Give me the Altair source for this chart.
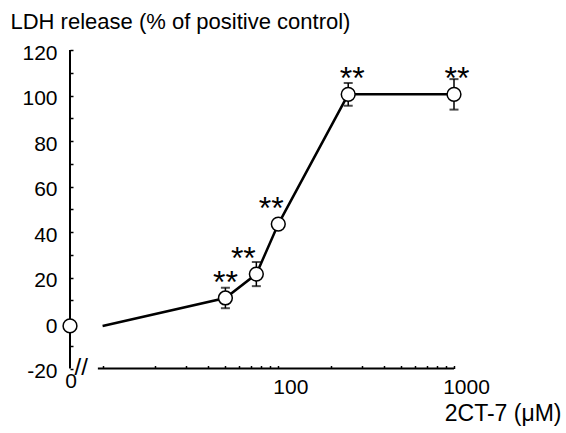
import altair as alt
import pandas as pd
import math

# ---- data ----
conc_uM = [50, 75, 100, 250, 1000]
ldh_pct = [11.0, 21.5, 43.5, 100.5, 100.5]
ldh_sem = [4.5, 5.3, 2.0, 5.0, 6.7]
signif = ["**", "**", "**", "**", "**"]
control_ldh = -1.3

x_tick_values = [10, 20, 30, 40, 50, 60, 70, 80, 90,
                 100, 200, 300, 400, 500, 600, 700, 800, 900, 1000]
y_tick_values = [-20, -10, 0, 10, 20, 30, 40, 50, 60, 70, 80, 90, 100, 110, 120]

# ---- layout constants ----
W, H = 384, 318.5
CONTROL_X = 10 ** 0.8145      # x position where the control (0 µM) is drawn (on the y axis)
LINE_START_X = 10             # the curve is drawn from the start of the log axis
FONT = "Liberation Sans"
PX_PER_DECADE = W / math.log10(1000 / CONTROL_X)
star_dx = [0, -13, -7, 4, 3]  # horizontal nudges (px) of the significance marks

pts = pd.DataFrame({
    "conc": conc_uM,
    "ldh": ldh_pct,
    "lo": [v - e for v, e in zip(ldh_pct, ldh_sem)],
    "hi": [v + e for v, e in zip(ldh_pct, ldh_sem)],
    "star": signif,
    "sdx": star_dx,
})
line_df = pd.DataFrame({"conc": [LINE_START_X] + conc_uM,
                        "ldh": [control_ldh] + ldh_pct})
ctrl = pd.DataFrame({"conc": [CONTROL_X], "ldh": [control_ldh]})

xscale = alt.Scale(type="log", domain=[CONTROL_X, 1000], nice=False)
yscale = alt.Scale(domain=[-20, 120], nice=False, zero=False)

label_expr = "indexof([100, 1000], datum.value) >= 0 ? '' + datum.value : ''"

xaxis = alt.Axis(
    values=x_tick_values, labelExpr=label_expr, domain=False, grid=False,
    tickSize=3, tickWidth=1.5, tickColor="black", offset=-3,
    labelFont=FONT, labelFontSize=21, labelColor="black", labelPadding=8,
    labelOffset=12, labelFlush=False,
    title="2CT-7 (μM)", titleFont=FONT, titleFontSize=23, titleFontWeight="normal",
    titleColor="black", titleAnchor="end", titleAlign="right", titleBaseline="alphabetic",
    titleX=491, titleY=55,
)
yaxis = alt.Axis(
    values=y_tick_values,
    labelExpr="datum.value % 20 == 0 ? '' + datum.value : ''",
    domain=False, grid=False, tickSize=3, tickWidth=1.5, tickColor="black", offset=-3,
    labelFont=FONT, labelFontSize=21, labelColor="black", labelPadding=13,
    labelOffset=3,
    title="LDH release (% of positive control)", titleFont=FONT, titleFontSize=22,
    titleFontWeight="normal", titleColor="black", titleAngle=0,
    titleAlign="left", titleBaseline="alphabetic", titleAnchor="start",
    titleX=-63, titleY=-22,
)

base_x = alt.X("conc:Q", scale=xscale, axis=xaxis)
base_y = alt.Y("ldh:Q", scale=yscale, axis=yaxis)

# axis lines
y_domain = alt.Chart(ctrl).mark_rule(color="black", strokeWidth=2).encode(
    x=alt.value(0), y=alt.value(0), y2=alt.value(H))
x_domain = alt.Chart(pd.DataFrame({"a": [9.4], "b": [1000], "v": [-20]})).mark_rule(
    color="black", strokeWidth=2).encode(
    x=alt.X("a:Q", scale=xscale, axis=xaxis), x2="b:Q",
    y=alt.Y("v:Q", scale=yscale, axis=yaxis))

line = alt.Chart(line_df).mark_line(color="black", strokeWidth=2.5).encode(x=base_x, y=base_y)

err = alt.Chart(pts).mark_rule(color="black", strokeWidth=1.5).encode(
    x=base_x, y=alt.Y("lo:Q", scale=yscale, axis=yaxis), y2="hi:Q")
cap_hi = alt.Chart(pts).mark_tick(color="black", orient="horizontal", size=9, thickness=2).encode(
    x=base_x, y=alt.Y("hi:Q", scale=yscale, axis=yaxis))
cap_lo = alt.Chart(pts).mark_tick(color="black", orient="horizontal", size=9, thickness=2).encode(
    x=base_x, y=alt.Y("lo:Q", scale=yscale, axis=yaxis))

circles = alt.Chart(pts).mark_point(shape="circle", filled=True, fill="white",
                                    stroke="black", strokeWidth=1.5, size=190, opacity=1).encode(
    x=base_x, y=base_y)
ctrl_circle = alt.Chart(ctrl).mark_point(shape="circle", filled=True, fill="white",
                                         stroke="black", strokeWidth=1.5, size=190, opacity=1).encode(
    x=base_x, y=base_y)

stars = alt.Chart(pts).transform_calculate(
    sx=f"datum.conc * pow(10, datum.sdx / {PX_PER_DECADE})"
).mark_text(
    font=FONT, fontSize=32, color="black", baseline="alphabetic", align="center", dy=-5
).encode(x=alt.X("sx:Q", scale=xscale, axis=xaxis), y=base_y, text="star:N")

zero_label = alt.Chart(pd.DataFrame({"conc": [CONTROL_X], "ldh": [-20], "t": ["0"]})).mark_text(
    font=FONT, fontSize=21, color="black", baseline="middle", align="center", dy=13, dx=1
).encode(x=base_x, y=base_y, text="t:N")

break_mark = alt.Chart(pd.DataFrame({"conc": [(CONTROL_X * 10) ** 0.5], "ldh": [-20], "t": ["//"]})).mark_text(
    font=FONT, fontSize=24, color="black", baseline="middle", align="center", dx=-5, dy=-1
).encode(x=base_x, y=base_y, text="t:N")

chart = alt.layer(
    y_domain, x_domain, line, err, cap_hi, cap_lo, circles, ctrl_circle, stars, zero_label, break_mark
).properties(
    width=W, height=H,
    autosize=alt.AutoSizeParams(type="none"),
    padding={"left": 70, "top": 50, "right": 112, "bottom": 64},
    background="white",
).configure_view(stroke=None)

chart.save("out.html", embed_options={"renderer": "svg", "actions": False})
